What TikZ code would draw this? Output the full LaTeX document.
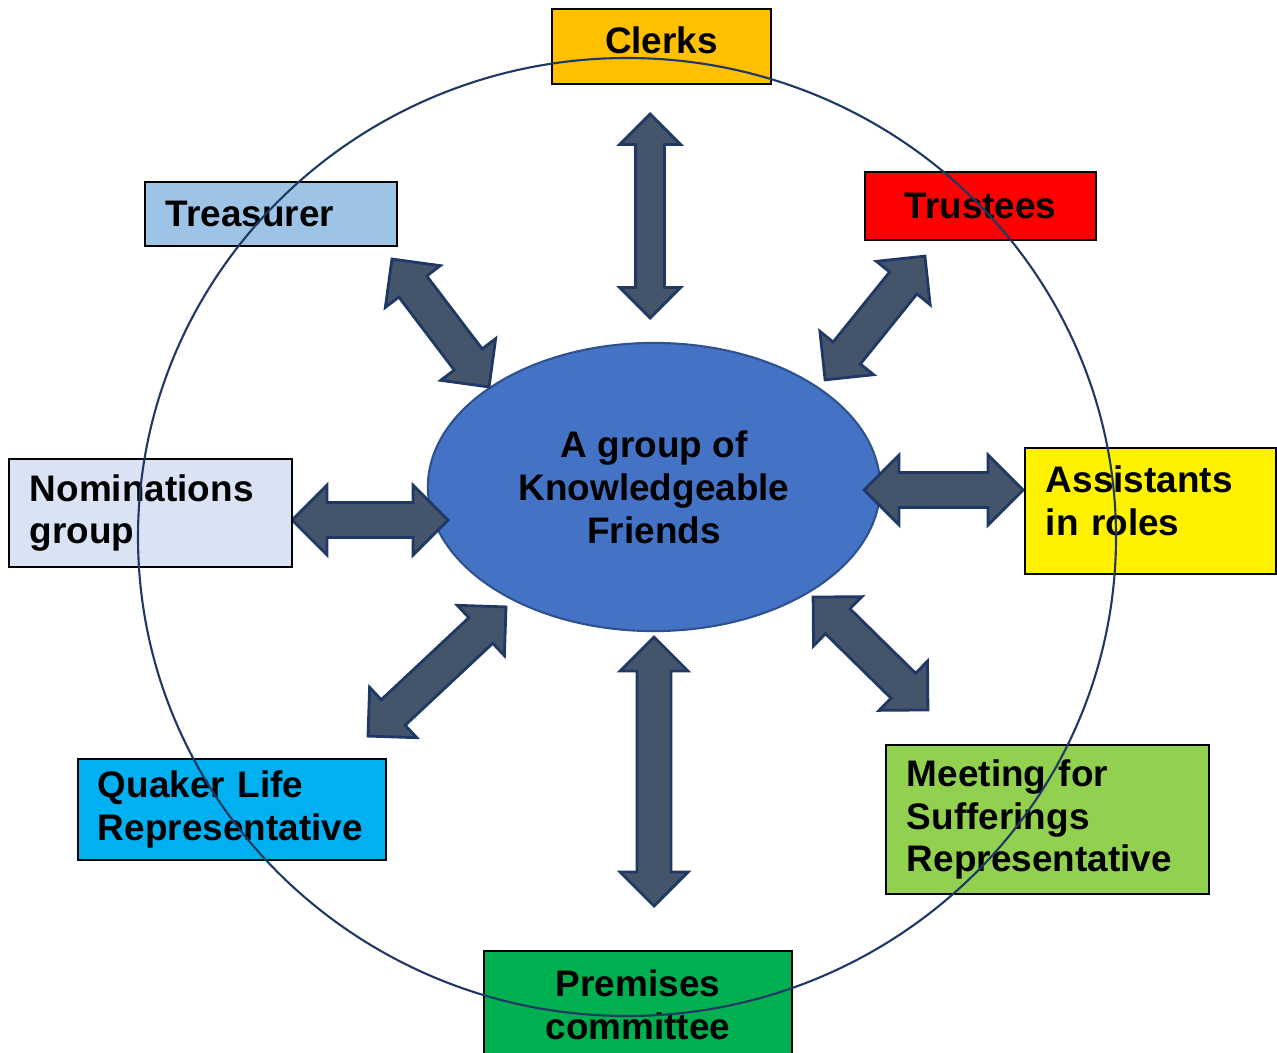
\documentclass[tikz,border=0pt]{standalone}
\usepackage{fontspec}
\setmainfont{Liberation Sans}
\usetikzlibrary{shapes.geometric}
\definecolor{slate}{HTML}{44546A}
\definecolor{navy}{HTML}{203864}
\definecolor{hubblue}{HTML}{4472C4}
\definecolor{hubedge}{HTML}{2F528F}
\definecolor{clerkcol}{HTML}{FFC000}
\definecolor{treascol}{HTML}{9DC3E6}
\definecolor{nomcol}{HTML}{DAE3F3}
\definecolor{quakercol}{HTML}{00B0F0}
\definecolor{meetcol}{HTML}{92D050}
\definecolor{premcol}{HTML}{00B050}
% centre, angle, half length, half head width, half shaft width
\newcommand{\dblarrow}[5]{%
  \draw[blockarrow,shift={#1},rotate=#2](-#3,0)--({-#3+#4},#4)--({-#3+#4},#5)--({#3-#4},#5)--({#3-#4},#4)--(#3,0)
    --({#3-#4},-#4)--({#3-#4},-#5)--({-#3+#4},-#5)--({-#3+#4},-#4)--cycle;}
\begin{document}
\begin{tikzpicture}[x=0.01cm,y=-0.01cm,
    font=\fontsize{10.5}{12.2}\selectfont\bfseries,
    box/.style={draw=black,line width=0.5pt,rectangle,inner sep=0pt,align=center},
    lbox/.style={box,align=left,inner xsep=0.21cm},
    blockarrow/.style={fill=slate,draw=navy,line width=0.8pt},
    hub/.style={ellipse,fill=hubblue,draw=hubedge,line width=0.6pt,align=center,
        minimum width=4.52cm,minimum height=2.88cm},
    ring/.style={draw=navy,line width=0.6pt}]
        \useasboundingbox(0,0)rectangle(1277,1052);
        \node[hub](kf)at(654,487){A group of\\Knowledgeable\\Friends};
        \dblarrow{(650,216)}{90}{102}{30.5}{14.5}
        \dblarrow{(654,771.5)}{90}{134.5}{34}{17}
        \dblarrow{(370,520)}{0}{78}{35}{17.5}
        \dblarrow{(943.5,490)}{0}{79.5}{35}{17.5}
        \dblarrow{(440.5,323)}{127.2}{80.3}{34.5}{17.5}
        \dblarrow{(875,318)}{51.1}{79.5}{34.5}{17.5}
        \dblarrow{(437,671.5)}{43.1}{94.5}{34.5}{17.5}
        \dblarrow{(870.5,653.5)}{-44.5}{80.5}{34.5}{17.5}
        \node[box,fill=clerkcol,minimum width=2.19cm,minimum height=0.75cm,text depth=0.12cm](clerks)at(661.5,46.5){Clerks};
        \node[lbox,fill=treascol,text width=2.10cm,minimum height=0.64cm](treasurer)at(271,214){Treasurer};
        \node[box,fill=red,minimum width=2.31cm,minimum height=0.68cm](trustees)at(980.5,206){Trustees};
        \node[lbox,fill=nomcol,text width=2.41cm,minimum height=1.08cm](nominations)at(150.5,513){Nominations\\group};
        \node[lbox,fill=yellow,text width=2.09cm,minimum height=1.26cm](assistants)at(1150.5,511){Assistants\\in roles\\[-0.23cm]\mbox{}};
        \node[lbox,fill=quakercol,inner xsep=0.2cm,text width=2.68cm,minimum height=1.01cm](quaker)at(232,809.5){Quaker Life\\Representative};
        \node[lbox,fill=meetcol,text width=2.81cm,minimum height=1.49cm](meeting)at(1047.5,819.5){Meeting for\\Sufferings\\Representative};
        \node[box,fill=premcol,minimum width=3.08cm,minimum height=1.07cm](premises)at(638,1004.5){Premises\\committee};
        \draw[ring](627,537)ellipse[x radius=489,y radius=479];
    \end{tikzpicture}
\end{document}
